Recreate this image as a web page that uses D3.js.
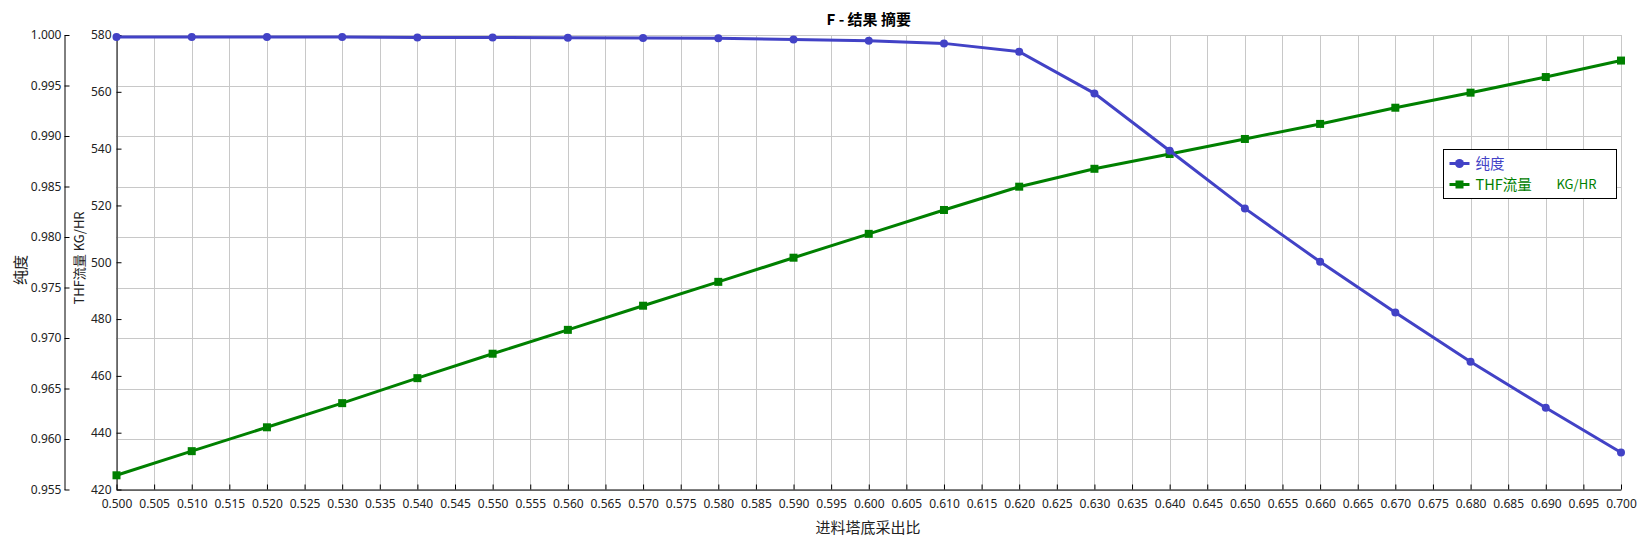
<!DOCTYPE html>
<html>
<head>
<meta charset="utf-8">
<title>F - 结果 摘要</title>
<script src="https://d3js.org/d3.v7.min.js"></script>
<style>
    body { margin: 0; background: #fff; }
    svg { display: block; }
    .tick text { font-family: "Noto Sans", "DejaVu Sans", sans-serif; font-size: 12px; fill: #222; }
    .cjk { font-family: "Noto Sans CJK SC", "Noto Sans", sans-serif; }
</style>
</head>
<body>
<svg id="chart"></svg>
<script>
    // data
    const feedRatio = [0.50, 0.51, 0.52, 0.53, 0.54, 0.55, 0.56, 0.57, 0.58, 0.59, 0.60,
                       0.61, 0.62, 0.63, 0.64, 0.65, 0.66, 0.67, 0.68, 0.69, 0.70]
    const purity = [0.99981, 0.99980, 0.99980, 0.99980, 0.99976, 0.99975, 0.99974, 0.99970,
                    0.99967, 0.99955, 0.99942, 0.99917, 0.99835, 0.99422, 0.98854, 0.98283,
                    0.97755, 0.97253, 0.96764, 0.96309, 0.95866]
    const thfFlow = [425.0, 433.5, 441.9, 450.4, 459.2, 467.8, 476.2, 484.7, 493.1, 501.6, 510.0,
                     518.4, 526.6, 532.9, 538.1, 543.4, 548.7, 554.4, 559.7, 565.2, 571.0]
    const xTickVals = d3.range(41).map(i => 0.5 + i * 0.005)
    const purityTicks = d3.range(10).map(i => 0.955 + i * 0.005)
    const thfTicks = [420, 440, 460, 480, 500, 520, 540, 560, 580]

    const W = 1645, H = 541
    const pLeft = 116.5, pRight = 1621, pTop = 35, pBottom = 489.5
    const blue = "#4242c6", green = "#008000"

    const svg = d3.select("#chart").attr("width", W).attr("height", H)

    const x = d3.scaleLinear().domain([0.5, 0.7]).range([pLeft, pRight])
    const yP = d3.scaleLinear().domain([0.955, 1.0]).range([pBottom, pTop])
    const yT = d3.scaleLinear().domain([420, 580]).range([pBottom, pTop])

    // grid
    const grid = svg.append("g").attr("stroke", "#c8c8c8").attr("stroke-width", 1)
    grid.selectAll("line.v").data(xTickVals).enter().append("line")
        .attr("x1", d => Math.round(x(d)) + 0.5).attr("x2", d => Math.round(x(d)) + 0.5)
        .attr("y1", pTop).attr("y2", pBottom)
    grid.selectAll("line.h").data(purityTicks).enter().append("line")
        .attr("x1", pLeft).attr("x2", pRight)
        .attr("y1", d => Math.round(yP(d)) + 0.5).attr("y2", d => Math.round(yP(d)) + 0.5)

    // axes
    svg.append("g").attr("transform", `translate(0,${pBottom})`)
        .call(d3.axisBottom(x).tickValues(xTickVals).tickFormat(d3.format(".3f"))
            .tickSizeInner(-5).tickSizeOuter(0).tickPadding(10))
    svg.append("g").attr("transform", "translate(64.5,0)")
        .call(d3.axisLeft(yP).tickValues(purityTicks).tickFormat(d3.format(".3f"))
            .tickSizeInner(-5).tickSizeOuter(0).tickPadding(3))
    svg.append("g").attr("transform", `translate(${pLeft},0)`)
        .call(d3.axisLeft(yT).tickValues(thfTicks).tickFormat(d3.format("d"))
            .tickSizeInner(-5).tickSizeOuter(0).tickPadding(5))
    svg.selectAll(".domain, .tick line").attr("stroke", "#000")

    // series
    const pts = feedRatio.map((r, i) => ({ r: r, p: purity[i], t: thfFlow[i] }))

    svg.append("path").datum(pts)
        .attr("fill", "none").attr("stroke", green).attr("stroke-width", 3)
        .attr("d", d3.line().x(d => x(d.r)).y(d => yT(d.t)))
    svg.selectAll("rect.thf").data(pts).enter().append("rect")
        .attr("x", d => x(d.r) - 4).attr("y", d => yT(d.t) - 4)
        .attr("width", 8).attr("height", 8).attr("fill", green)

    svg.append("path").datum(pts)
        .attr("fill", "none").attr("stroke", blue).attr("stroke-width", 3)
        .attr("d", d3.line().x(d => x(d.r)).y(d => yP(d.p)))
    svg.selectAll("circle.pur").data(pts).enter().append("circle")
        .attr("cx", d => x(d.r)).attr("cy", d => yP(d.p))
        .attr("r", 4).attr("fill", blue)

    // titles
    svg.append("text").attr("class", "cjk")
        .attr("x", (pLeft + pRight) / 2).attr("y", 25)
        .attr("text-anchor", "middle").attr("font-size", 15).attr("font-weight", "bold")
        .attr("fill", "#000").text("F - 结果 摘要")
    svg.append("text").attr("class", "cjk")
        .attr("x", 868).attr("y", 533)
        .attr("text-anchor", "middle").attr("font-size", 15).attr("fill", "#222")
        .text("进料塔底采出比")
    svg.append("text").attr("class", "cjk")
        .attr("transform", "translate(26,270) rotate(-90)")
        .attr("text-anchor", "middle").attr("font-size", 15).attr("fill", "#222")
        .text("纯度")
    svg.append("text").attr("class", "cjk")
        .attr("transform", "translate(84,258) rotate(-90)")
        .attr("text-anchor", "middle").attr("font-size", 13).attr("fill", "#222")
        .text("THF流量 KG/HR")

    // legend
    const lg = svg.append("g").attr("transform", "translate(1443.5,149.5)")
    lg.append("rect").attr("width", 173).attr("height", 49)
        .attr("fill", "#fff").attr("stroke", "#000").attr("stroke-width", 1)
    const rows = [{ name: "纯度", unit: "", color: blue, shape: "circle" },
                  { name: "THF流量", unit: "KG/HR", color: green, shape: "square" }]
    rows.forEach((d, i) => {
        const cy = 14 + i * 21
        lg.append("line").attr("x1", 6).attr("x2", 26).attr("y1", cy).attr("y2", cy)
            .attr("stroke", d.color).attr("stroke-width", 3)
        if (d.shape === "circle") {
            lg.append("circle").attr("cx", 16).attr("cy", cy).attr("r", 4.5).attr("fill", d.color)
        } else {
            lg.append("rect").attr("x", 12).attr("y", cy - 4).attr("width", 8).attr("height", 8).attr("fill", d.color)
        }
        lg.append("text").attr("class", "cjk").attr("x", 32).attr("y", cy)
            .attr("dy", "0.35em").attr("font-size", 14.5).attr("fill", d.color).text(d.name)
        if (d.unit) {
            lg.append("text").attr("class", "cjk").attr("x", 113).attr("y", cy)
                .attr("dy", "0.35em").attr("font-size", 13).attr("fill", d.color).text(d.unit)
        }
    })
</script>
</body>
</html>
